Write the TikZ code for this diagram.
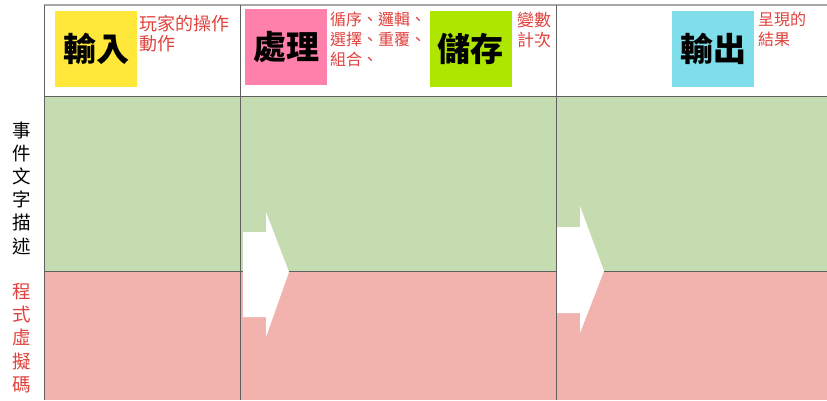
\documentclass[tikz,border=0pt]{standalone}
\usepackage{fontspec}
\newfontfamily\cjk{Noto Sans CJK TC}
\newfontfamily\cjkbold{Noto Sans CJK TC Black}
\definecolor{redtxt}{HTML}{E0413C}
\definecolor{ybox}{HTML}{FFE83A}
\definecolor{pbox}{HTML}{FF80AA}
\definecolor{gbox}{HTML}{AEE600}
\definecolor{cbox}{HTML}{80DEEA}
\definecolor{greenbg}{HTML}{C5DCB0}
\definecolor{pinkbg}{HTML}{F2B3AE}
\definecolor{gridline}{HTML}{606060}
\tikzset{
  x=1pt, y=-1pt,
  stagebox/.style={inner sep=0pt, minimum width=82pt, minimum height=76pt, font=\cjkbold\fontsize{33}{36}\selectfont, text=black},
  note/.style={anchor=north west, inner sep=0pt, align=left, text=redtxt, font=\cjk\fontsize{16}{20}\selectfont},
  rowlab/.style={inner sep=0pt, align=center, font=\cjk\fontsize{18.5}{23.2}\selectfont},
  flowarrow/.style={fill=white, draw=none},
  grid/.style={draw=gridline, line width=0.8pt}
}
\begin{document}
\begin{tikzpicture}
\useasboundingbox (0,0) rectangle (827,400);
% backgrounds
\fill[greenbg] (44,96) rectangle (827,271);
\fill[pinkbg] (44,271) rectangle (827,400);
% grid lines
\draw[draw=gray!70, line width=1.5pt] (44,5) -- (827,5);
\draw[grid] (44,5) -- (44,400);
\draw[grid] (44,96) -- (827,96);
\draw[grid] (44,271) -- (827,271);
\draw[grid] (240,5) -- (240,400);
\draw[grid] (556,5) -- (556,400);
% stage boxes
\node[stagebox, fill=ybox] (in) at (96,49) {輸入};
\node[stagebox, fill=pbox] (proc) at (286,47) {處理};
\node[stagebox, fill=gbox] (store) at (470.5,49) {儲存};
\node[stagebox, fill=cbox] (out) at (713,48.5) {輸出};
% notes
\node[note, font=\cjk\fontsize{18}{20}\selectfont] (n1) at (139,15) {玩家的操作\\動作};
\node[note] (n2) at (330,12) {循序、邏輯、\\選擇、重覆、\\組合、};
\node[note, font=\cjk\fontsize{17}{20}\selectfont] (n3) at (517,12) {變數\\計次};
\node[note] (n4) at (758,12) {呈現的\\結果};
% row labels
\node[rowlab] (r1) at (22,188) {事\\件\\文\\字\\描\\述};
\node[rowlab, text=redtxt] (r2) at (22,338) {程\\式\\虛\\擬\\碼};
% arrows
\fill[flowarrow] (243,232) -- (266,232) -- (266,212) -- (289,272) -- (266,337) -- (266,317) -- (243,317) -- cycle;
\fill[flowarrow] (557,227) -- (580,227) -- (580,206) -- (604,271) -- (580,333) -- (580,313) -- (557,313) -- cycle;
\end{tikzpicture}
\end{document}
